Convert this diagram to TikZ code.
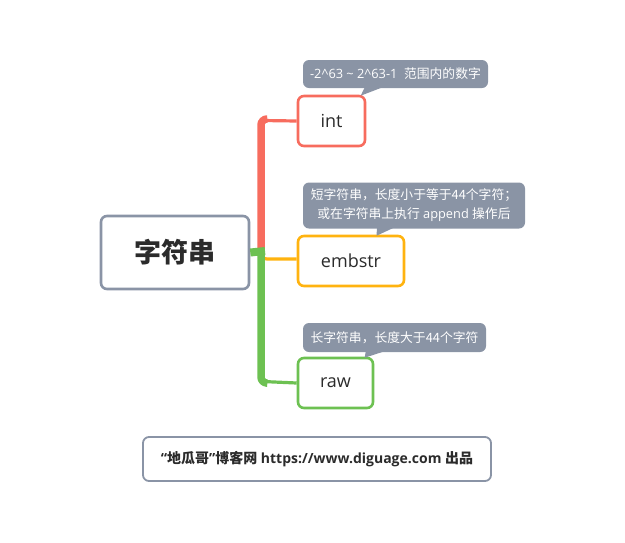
\documentclass[tikz,border=0pt]{standalone}
\usepackage{fontspec}
\setmainfont{Open Sans}
\newfontfamily\cjk{Noto Sans CJK SC}
\newcommand{\zh}[1]{{\cjk #1}}
\usetikzlibrary{positioning}
\definecolor{rootline}{HTML}{8A94A6}
\definecolor{intline}{HTML}{F76C5E}
\definecolor{embline}{HTML}{FFB30F}
\definecolor{rawline}{HTML}{6DC152}
\definecolor{notefill}{HTML}{8A94A5}
\definecolor{inktext}{HTML}{2B2B2B}

\begin{document}
\begin{tikzpicture}[x=1pt,y=-1pt,
      topic/.style={draw,line width=2.6pt,rounded corners=6pt,fill=white,
        text=inktext,inner sep=0pt,font=\fontsize{18}{20}\selectfont},
      note/.style={fill=notefill,rounded corners=6pt,text=white,inner sep=0pt,
        align=center,font=\fontsize{12.8}{19}\selectfont},
      trunk/.style={line width=7.5pt,rounded corners=6pt},
      twig/.style={line width=3.2pt},
    ]
        \useasboundingbox (0,0) rectangle (625,542);
        \node[topic,draw=rootline,minimum width=148pt,minimum height=73pt,
          font=\fontsize{27}{30}\selectfont\bfseries] (root) at (175,252.5) {\zh{字符串}};
        \node[topic,draw=intline,minimum width=67pt,minimum height=50pt] (int) at (331.5,121) {int};
        \node[topic,draw=embline,minimum width=106pt,minimum height=50pt] (embstr) at (351,261) {embstr};
        \node[topic,draw=rawline,minimum width=75pt,minimum height=50pt] (raw) at (335.5,383) {raw};

        \node[note,minimum width=185pt,minimum height=28pt] (intnote) at (395.5,74)
          {-2\^{}63 \textasciitilde{} 2\^{}63-1 \ \zh{范围内的数字}};
        \node[note,minimum width=222pt,minimum height=46pt] (embnote) at (414,205.5)
          {\zh{短字符串，长度小于等于44个字符；}\\ \zh{或在字符串上执行} append \zh{操作后}};
        \node[note,minimum width=183pt,minimum height=29pt] (rawnote) at (394.5,337.5)
          {\zh{长字符串，长度大于44个字符}};
        \fill[notefill] ([xshift=62pt,yshift=1pt]intnote.south west) -- ([xshift=80pt,yshift=1pt]intnote.south west)
          -- ([xshift=64pt,yshift=-1pt]int.north west) -- cycle;
        \fill[notefill] ([xshift=74pt,yshift=1pt]embnote.south west) -- ([xshift=91pt,yshift=1pt]embnote.south west)
          -- ([xshift=80pt,yshift=-1pt]embstr.north west) -- cycle;
        \fill[notefill] ([xshift=63pt,yshift=1pt]rawnote.south west) -- ([xshift=82pt,yshift=1pt]rawnote.south west)
          -- ([xshift=68pt,yshift=-1pt]raw.north west) -- cycle;

        \coordinate (hub) at (261,251);
        \draw[trunk,intline] (hub) |- ([xshift=-31pt,yshift=2pt]int.west);
        \draw[twig,intline] ([xshift=-34pt,yshift=0.5pt]int.west) -- (int.west);
        \draw[twig,embline,rounded corners=6pt] (hub) |- ([yshift=2pt]embstr.west);
        \draw[trunk,rawline] ([yshift=3pt]hub) |- ([xshift=-31pt,yshift=0pt]raw.west);
        \draw[twig,rawline] ([xshift=-34pt,yshift=1.5pt]raw.west) -- (raw.west);
        \draw[line width=8pt,rawline] (root.east) -- ([xshift=4pt]hub);

        \node[draw=rootline,line width=1.8pt,rounded corners=6pt,minimum width=348pt,
          minimum height=44pt,inner sep=0pt,text=inktext,
          font=\fontsize{14}{16}\selectfont\bfseries] (credit) at (317,459)
          {“\zh{地瓜哥}”\zh{博客网} https://www.diguage.com \zh{出品}};
    \end{tikzpicture}
\end{document}
